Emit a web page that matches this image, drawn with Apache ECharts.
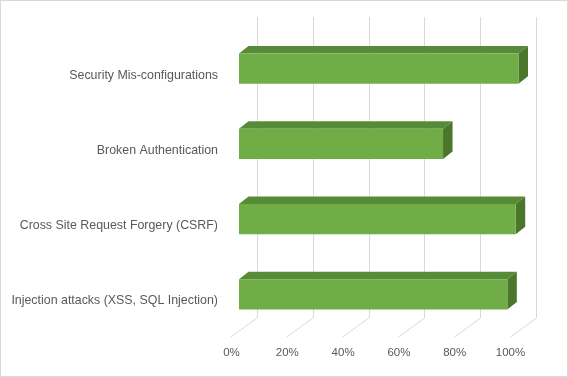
<!DOCTYPE html>
<html>
<head><meta charset="utf-8">
<script src="https://cdn.jsdelivr.net/npm/echarts@6/dist/echarts.min.js"></script>
<style>
  html, body { margin: 0; padding: 0; background: #fff; }
  #main { width: 568px; height: 377px; box-sizing: border-box; border: 1px solid #d9d9d9; }
</style>
</head>
<body>
<div id="main"></div>
<script type="text/javascript">
// categories top to bottom
var categories = ['Security Mis-configurations', 'Broken Authentication', 'Cross Site Request Forgery (CSRF)', 'Injection attacks (XSS, SQL Injection)'];
var values = [100, 73, 99, 96];
var ticks = [0, 20, 40, 60, 80, 100];

var DX = 9.5, DY = 7.5;     // bar depth
var FX = -26, FY = 19;      // floor line direction

var myChart = echarts.init(document.getElementById('main'), null, {renderer: 'canvas'});

var barData = values.map(function (v, i) { return [v, i]; });
var floorData = ticks.map(function (t) { return [t, 0]; });

function renderBar(params, api) {
    var s = api.coord([0, api.value(1)]);
    var e = api.coord([api.value(0), api.value(1)]);
    var h = api.size([0, 1])[1] * 0.4;
    var y0 = s[1] - h / 2;
    return {
        type: 'group',
        children: [
            {type: 'polygon', shape: {points: [[s[0], y0], [s[0] + DX, y0 - DY], [e[0] + DX, y0 - DY], [e[0], y0]]},
             style: {fill: '#588b38'}},
            {type: 'polygon', shape: {points: [[e[0], y0], [e[0] + DX, y0 - DY], [e[0] + DX, y0 + h - DY], [e[0], y0 + h]]},
             style: {fill: '#4a772b'}},
            {type: 'rect', shape: {x: s[0], y: y0, width: e[0] - s[0], height: h},
             style: {fill: '#70ad47'}}
        ]
    };
}

function renderFloor(params, api) {
    var p = api.coord([api.value(0), 0]);
    return {
        type: 'line',
        shape: {x1: p[0], y1: p[1], x2: p[0] + FX, y2: p[1] + FY},
        style: {stroke: '#d9d9d9', lineWidth: 1}
    };
}

var option = {
    animation: false,
    grid: [
        {left: 238, width: 279.5, top: 30, height: 301},   // bars (front plane)
        {left: 256, width: 279.5, top: 16, height: 301},   // back wall
        {left: 230.5, width: 279, top: 300, height: 37}    // floor front / labels
    ],
    xAxis: [
        {gridIndex: 0, type: 'value', min: 0, max: 100, interval: 20, show: false},
        {gridIndex: 1, type: 'value', min: 0, max: 100, interval: 20,
         axisLine: {show: false}, axisTick: {show: false}, axisLabel: {show: false},
         splitLine: {show: true, lineStyle: {color: '#d9d9d9', width: 1}}},
        {gridIndex: 2, type: 'value', min: 0, max: 100, interval: 20,
         axisLine: {show: false}, axisTick: {show: false}, splitLine: {show: false},
         axisLabel: {formatter: '{value}%', color: '#595959', fontSize: 11.5,
                     fontFamily: 'Liberation Sans', margin: 9}}
    ],
    yAxis: [
        {gridIndex: 0, type: 'category', data: categories, inverse: true,
         axisLine: {show: false}, axisTick: {show: false}, splitLine: {show: false},
         axisLabel: {color: '#595959', fontSize: 12.4, fontFamily: 'Liberation Sans',
                     margin: 21, verticalAlign: 'top', lineHeight: 13}},
        {gridIndex: 1, type: 'value', min: 0, max: 1, show: false},
        {gridIndex: 2, type: 'value', min: 0, max: 1, show: false}
    ],
    series: [
        {type: 'custom', xAxisIndex: 1, yAxisIndex: 1, data: floorData,
         renderItem: renderFloor, silent: true, z: 1},
        {type: 'custom', xAxisIndex: 0, yAxisIndex: 0, data: barData,
         renderItem: renderBar, z: 5}
    ]
};
myChart.setOption(option);
</script>
</body>
</html>
